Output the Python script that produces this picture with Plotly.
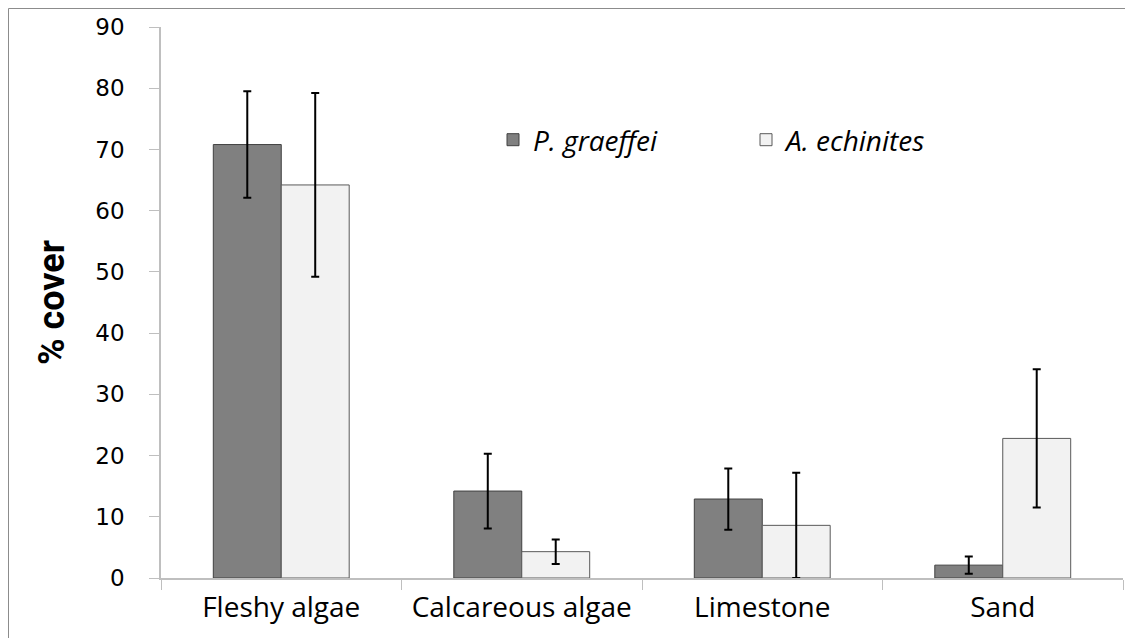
import plotly.graph_objects as go

categories = ["Fleshy algae", "Calcareous algae", "Limestone", "Sand"]
p_graeffei = [70.8, 14.2, 12.9, 2.1]
p_graeffei_err = [8.7, 6.1, 5.0, 1.4]
a_echinites = [64.2, 4.3, 8.6, 22.8]
a_echinites_err = [15.0, 2.0, 8.6, 11.3]
y_ticks = [0, 10, 20, 30, 40, 50, 60, 70, 80, 90]

# page body has an 8px margin, so the figure is sized/positioned to compensate
W, H = 1125, 630
L, R, T, B = 153, 10, 19, 60
pw = W - L - R
ph = H - T - B

fig = go.Figure()
fig.add_trace(go.Bar(
    name="P. graeffei", x=categories, y=p_graeffei,
    marker=dict(color="#808080", line=dict(color="#404040", width=1)),
    error_y=dict(type="data", array=p_graeffei_err, color="black", thickness=2, width=4),
))
fig.add_trace(go.Bar(
    name="A. echinites", x=categories, y=a_echinites,
    marker=dict(color="#f2f2f2", line=dict(color="#595959", width=1)),
    error_y=dict(type="data", array=a_echinites_err, color="black", thickness=2, width=4),
))

fig.update_layout(
    width=W, height=H,
    margin=dict(l=L, r=R, t=T, b=B, autoexpand=False),
    plot_bgcolor="white", paper_bgcolor="white",
    barmode="group", bargap=0.435, bargroupgap=0,
    showlegend=True,
    legend=dict(
        orientation="h", x=(485 - L) / pw, y=(570 - 132) / ph,
        xanchor="left", yanchor="middle",
        font=dict(family="Open Sans", size=28, color="black", style="italic"),
        itemwidth=30, traceorder="normal", entrywidth=208,
        bgcolor="rgba(0,0,0,0)",
    ),
    xaxis=dict(
        showline=True, linecolor="#bfbfbf", linewidth=1.5,
        ticks="outside", tickson="boundaries", ticklen=10, tickcolor="#bfbfbf",
        tickfont=dict(family="Open Sans", size=28, color="black"),
        ticklabelstandoff=4,
        showgrid=False, automargin=False,
    ),
    yaxis=dict(
        range=[0, 90], tickvals=y_ticks,
        showline=True, linecolor="#bfbfbf", linewidth=1.5,
        ticks="outside", ticklen=10, tickcolor="#bfbfbf",
        tickfont=dict(family="DejaVu Sans", size=23, color="black"),
        ticklabelstandoff=20,
        showgrid=False, zeroline=False, automargin=False,
    ),
    annotations=[dict(
        text="<b>% cover</b>", textangle=-90,
        xref="paper", yref="paper",
        x=(44 - L) / pw, y=(570 - 295) / ph,
        xanchor="center", yanchor="middle", showarrow=False,
        font=dict(family="Roboto", size=36, color="black"),
    )],
    shapes=[dict(
        type="rect", xref="paper", yref="paper",
        x0=(0.5 - L) / pw, x1=(1300 - L) / pw,
        y0=(570 - 800) / ph, y1=(570 - 0.5) / ph,
        line=dict(color="#8c8c8c", width=1), fillcolor="rgba(0,0,0,0)",
        layer="below",
    )],
)

fig.write_html("out.html")
